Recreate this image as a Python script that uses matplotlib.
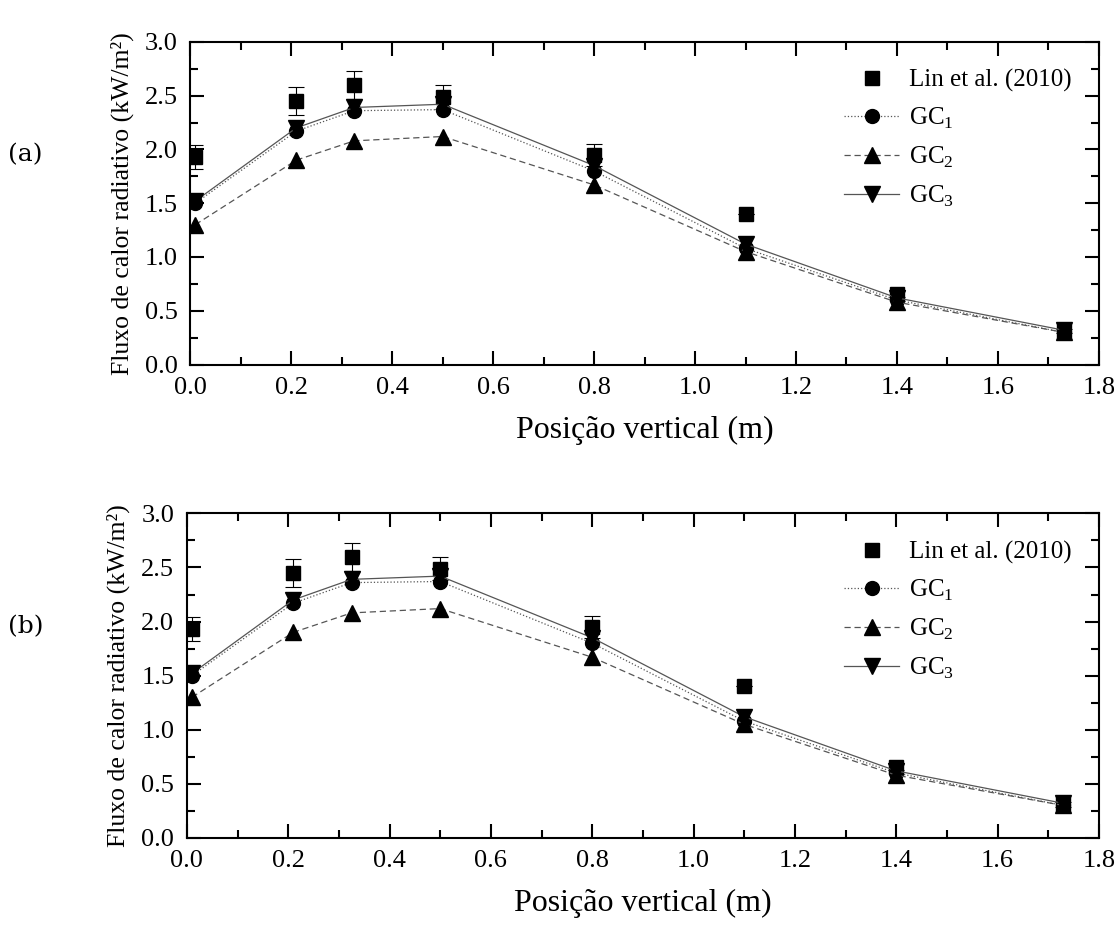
import matplotlib.pyplot as plt
from matplotlib.ticker import MultipleLocator

plt.rcParams['font.family'] = ['Liberation Serif', 'DejaVu Serif']
plt.rcParams['mathtext.fontset'] = 'custom'
plt.rcParams['mathtext.rm'] = 'Liberation Serif'

x = [0.01, 0.21, 0.325, 0.5, 0.8, 1.1, 1.4, 1.73]
lin = [1.93, 2.45, 2.60, 2.49, 1.95, 1.40, 0.66, 0.31]
lin_err = [0.11, 0.13, 0.13, 0.11, 0.10, 0.0, 0.03, 0.02]
gc1 = [1.50, 2.17, 2.36, 2.37, 1.80, 1.08, 0.60, 0.30]
gc2 = [1.30, 1.90, 2.08, 2.12, 1.67, 1.05, 0.58, 0.30]
gc3 = [1.52, 2.20, 2.39, 2.42, 1.85, 1.12, 0.62, 0.32]

panels = ['(a)', '(b)']

fig = plt.figure(figsize=(11.19, 9.30), dpi=100)
axes_pos = [[0.17, 0.608, 0.812, 0.347], [0.167, 0.099, 0.815, 0.349]]

for pos, lab in zip(axes_pos, panels):
    ax = fig.add_axes(pos)
    ax.errorbar(x, lin, yerr=lin_err, fmt='none', ecolor='black',
                elinewidth=0.8, capsize=6, capthick=0.8)
    ax.plot(x, lin, ls='none', marker='s', ms=10, color='black', label='Lin et al. (2010)')
    ax.plot(x, gc1, color='#555555', ls=':', lw=0.9, marker='o', ms=10,
            mfc='black', mec='black', label='GC$_1$')
    ax.plot(x, gc2, color='#555555', ls='--', lw=0.9, dashes=(5, 3), marker='^', ms=11,
            mfc='black', mec='black', label='GC$_2$')
    ax.plot(x, gc3, color='#555555', ls='-', lw=0.9, marker='v', ms=11,
            mfc='black', mec='black', label='GC$_3$')

    ax.set_xlim(0, 1.8)
    ax.set_ylim(0, 3.0)
    ax.xaxis.set_major_locator(MultipleLocator(0.2))
    ax.xaxis.set_minor_locator(MultipleLocator(0.1))
    ax.yaxis.set_major_locator(MultipleLocator(0.5))
    ax.yaxis.set_minor_locator(MultipleLocator(0.25))
    ax.tick_params(which='both', direction='in', top=True, right=True, labelsize=19, width=1.5)
    ax.tick_params(which='major', length=10, pad=9)
    ax.tick_params(which='minor', length=6)
    for s in ax.spines.values():
        s.set_linewidth(1.5)

    ax.set_xlabel('Posição vertical (m)', fontsize=23, labelpad=12)
    ax.set_ylabel('Fluxo de calor radiativo (kW/m²)', fontsize=18.5, labelpad=8)

    ax.legend(loc='upper right', frameon=False, fontsize=18,
              handlelength=2.2, labelspacing=0.55, handletextpad=0.4,
              bbox_to_anchor=(0.995, 0.985))

    fig.text(0.007, pos[1] + pos[3] * 0.63, lab, fontsize=18, family='DejaVu Serif')

fig.savefig('out.png', dpi=100)
